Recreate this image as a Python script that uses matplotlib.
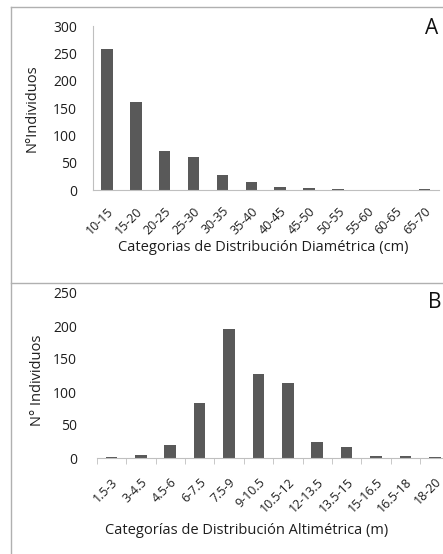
import matplotlib
matplotlib.use("Agg")
import matplotlib.pyplot as plt
import matplotlib.transforms as mtransforms
from matplotlib.lines import Line2D

plt.rcParams['font.family'] = ['Open Sans', 'DejaVu Sans']

# data
diam_cats = ['10-15', '15-20', '20-25', '25-30', '30-35', '35-40',
             '40-45', '45-50', '50-55', '55-60', '60-65', '65-70']
diam_counts = [258, 161, 71, 60, 27, 15, 5, 4, 2.5, 0, 0, 2]

alt_cats = ['1.5-3', '3-4.5', '4.5-6', '6-7.5', '7.5-9', '9-10.5',
            '10.5-12', '12-13.5', '13.5-15', '15-16.5', '16.5-18', '18-20']
alt_counts = [1.5, 5, 20, 83, 196, 127, 113, 25, 17, 3.5, 3.5, 1.5]

W, H = 443, 554
bar_color = '#595959'
axis_color = '#bfbfbf'
txt = '#1e1e1e'
fs_ytick = 10
fs_xtick = 9
fs_lab = 10.5

fig = plt.figure(figsize=(W / 100, H / 100), dpi=100)


def px(x0, y0, x1, y1):
    # pixel box (top-left origin) -> figure fraction rect
    return [x0 / W, 1 - y1 / H, (x1 - x0) / W, (y1 - y0) / H]


def shift(lab, dx):
    lab.set_transform(lab.get_transform() +
                      mtransforms.ScaledTranslation(dx / 100, 0, fig.dpi_scale_trans))


# panel frames
for seg in [((11, 11), (7, H)), ((11, W), (7, 7)), ((11, W), (283, 283))]:
    fig.add_artist(Line2D([s / W for s in seg[0]], [1 - s / H for s in seg[1]],
                          color='#b0b0b0', lw=1.0))

# ---- panel A
axA = fig.add_axes(px(92.5, 26, 439, 190))
xa = range(len(diam_cats))
axA.bar(xa, diam_counts, width=0.4, color=bar_color)
axA.set_xlim(-0.5, len(diam_cats) - 0.5)
axA.set_ylim(0, 300)
axA.set_yticks(range(0, 301, 50))
axA.set_xticks(list(xa))
axA.set_xticklabels(diam_cats, rotation=45, ha='right', rotation_mode='anchor')
axA.tick_params(axis='y', length=0, pad=11, labelsize=fs_ytick, colors=txt)
axA.tick_params(axis='x', length=0, pad=10.5, labelsize=fs_xtick, colors=txt)
for s in ['top', 'right']:
    axA.spines[s].set_visible(False)
axA.spines['left'].set_color(axis_color)
axA.spines['bottom'].set_color(axis_color)
axA.set_ylabel('N°Individuos', fontsize=fs_lab, color=txt)
axA.yaxis.set_label_coords(-0.152, 0.5)
fig.text(263 / W, 1 - 248 / H, 'Categorias de Distribución Diamétrica (cm)',
         ha='center', va='center', fontsize=fs_lab, color=txt)
fig.text(432 / W, 1 - 28 / H, 'A', ha='center', va='center', fontsize=15, color='#111111')

# ---- panel B
axB = fig.add_axes(px(96.7, 293, 449.5, 458))
xb = range(len(alt_cats))
axB.bar(xb, alt_counts, width=0.4, color=bar_color)
axB.set_xlim(-0.5, len(alt_cats) - 0.5)
axB.set_ylim(0, 250)
axB.set_yticks(range(0, 251, 50))
axB.set_xticks(list(xb))
axB.set_xticklabels(alt_cats, rotation=45, ha='right', rotation_mode='anchor')
shift(axB.get_xticklabels()[-1], -4)
axB.set_xticks([i - 0.5 for i in xb], minor=True)
axB.tick_params(axis='x', which='minor', length=4, color=axis_color)
axB.tick_params(axis='x', which='major', length=0, pad=12.5, labelsize=fs_xtick, colors=txt)
axB.tick_params(axis='y', length=0, pad=14, labelsize=fs_ytick, colors=txt)
for s in ['top', 'right', 'left']:
    axB.spines[s].set_visible(False)
axB.spines['bottom'].set_color(axis_color)
axB.set_ylabel('N° Individuos', fontsize=fs_lab, color=txt)
axB.yaxis.set_label_coords(-0.147, 0.47)
fig.text(247 / W, 1 - 530 / H, 'Categorías de Distribución Altimétrica (m)',
         ha='center', va='center', fontsize=fs_lab, color=txt)
fig.text(435 / W, 1 - 302 / H, 'B', ha='center', va='center', fontsize=15, color='#111111')

fig.savefig('out.png', dpi=100)
